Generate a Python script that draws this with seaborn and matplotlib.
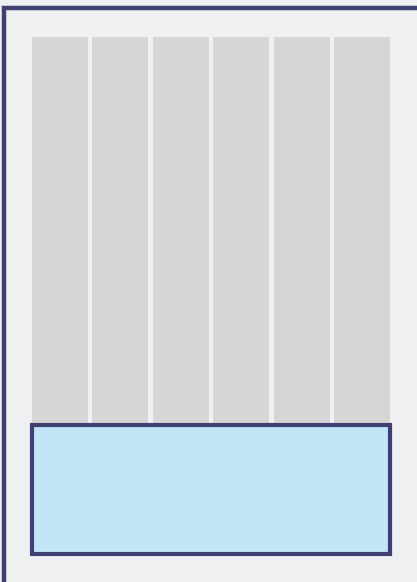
import matplotlib
matplotlib.use("Agg")
import matplotlib.pyplot as plt
from matplotlib.patches import Rectangle
import pandas as pd
import seaborn as sns

# six grey columns, all full height, and one wide blue panel at the bottom
columns = ["c1", "c2", "c3", "c4", "c5", "c6"]
column_heights = [517, 517, 517, 517, 517, 517]
panel_height = 129

bg = "#eff0f2"
grey = "#d6d6d7"
navy = "#3d4070"
light_blue = "#c2e6f8"

sns.set_style("white")

fig = plt.figure(figsize=(4.17, 5.82), dpi=100)
fig.patch.set_facecolor(bg)

# outer frame, cut off at right and bottom edge of the picture
frame = Rectangle((4 / 417, -0.1), 1.2, (582 - 8) / 582 + 0.1,
                  transform=fig.transFigure, fill=False,
                  edgecolor=navy, linewidth=3.2, zorder=0)
fig.patches.append(frame)

ax = fig.add_axes([29.75 / 417, 28 / 582, 362.5 / 417, 517 / 582])
ax.set_facecolor(bg)
ax.patch.set_alpha(0)

df = pd.DataFrame({"col": columns, "h": column_heights})
sns.barplot(data=df, x="col", y="h", color=grey, width=0.927,
            saturation=1, ax=ax, linewidth=0)

# the blue panel spans all six columns
ax.bar((len(columns) - 1) / 2, panel_height, width=5.925,
       color=light_blue, edgecolor=navy, linewidth=3.0, clip_on=False, zorder=3)

ax.set_xlim(-0.5, len(columns) - 0.5)
ax.set_ylim(0, max(column_heights))
ax.axis("off")

fig.savefig("out.png", dpi=100, facecolor=bg)
